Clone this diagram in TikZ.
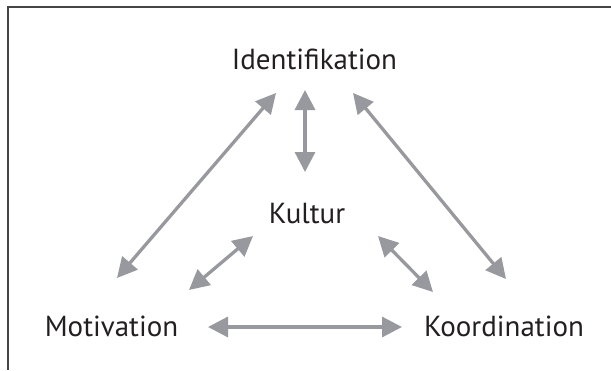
\documentclass[tikz,border=0pt]{standalone}
\usepackage{fontspec}
\setmainfont{PT Sans}
\usetikzlibrary{arrows.meta}
\definecolor{linkgray}{RGB}{152,153,158}
\definecolor{textdark}{RGB}{35,31,32}
\definecolor{framegray}{RGB}{70,70,70}
\begin{document}
\begin{tikzpicture}[x=1pt,y=-1pt,
  term/.style={font=\fontsize{29}{29}\selectfont, text=textdark, inner sep=0pt, anchor=base},
  link/.style={draw=linkgray, line width=3.3pt,
    {Triangle[length=20pt,width=20pt]}-{Triangle[length=20pt,width=20pt]}},
  frame/.style={draw=framegray, line width=2pt}]
\useasboundingbox (0,0) rectangle (611,370);
% open frame: top and left edges
\draw[frame] (611,7) -- (8,7) -- (8,370);
% terms
\node[term] (ident) at (314.5,69) {Identifikation};
\node[term] (kultur) at (307,223) {Kultur};
\node[term] (motiv) at (111.5,336) {Motivation};
\node[term] (koord) at (504,336) {Koordination};
% arrow ends
\coordinate (im1) at (276,93);  \coordinate (im2) at (117,278);
\coordinate (ik1) at (305,90);  \coordinate (ik2) at (305,172);
\coordinate (ic1) at (353,93);  \coordinate (ic2) at (506,279);
\coordinate (km1) at (253,236); \coordinate (km2) at (189,290);
\coordinate (kc1) at (378,236); \coordinate (kc2) at (433,292);
\coordinate (mc1) at (208,327); \coordinate (mc2) at (402,327);
% two-way links
\draw[link] (im1) -- (im2);
\draw[link] (ik1) -- (ik2);
\draw[link] (ic1) -- (ic2);
\draw[link] (km1) -- (km2);
\draw[link] (kc1) -- (kc2);
\draw[link] (mc1) -- (mc2);
\end{tikzpicture}
\end{document}
